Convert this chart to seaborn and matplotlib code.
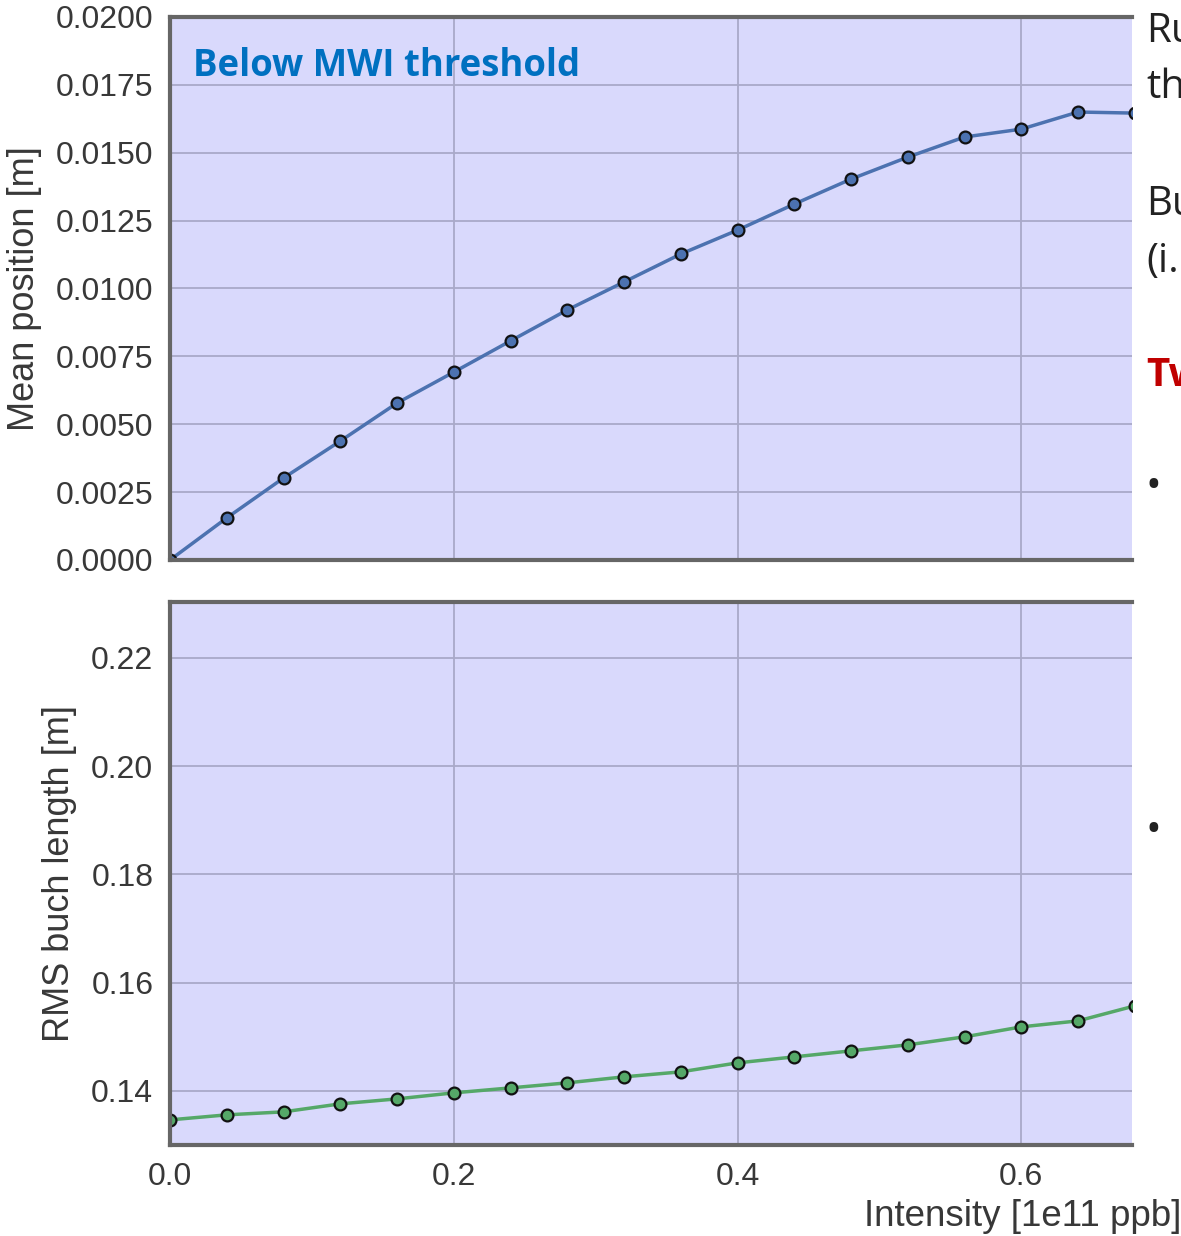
import numpy as np
import pandas as pd
import matplotlib
matplotlib.use("Agg")
import matplotlib.pyplot as plt
import seaborn as sns

# ---- data ----
intensity = [0.00, 0.04, 0.08, 0.12, 0.16, 0.20, 0.24, 0.28, 0.32, 0.36,
             0.40, 0.44, 0.48, 0.52, 0.56, 0.60, 0.64, 0.68]
mean_position = [0.0000, 0.00155, 0.00302, 0.00438, 0.00578, 0.00692, 0.00807,
                 0.00921, 0.01024, 0.01127, 0.01215, 0.01311, 0.01403, 0.01484,
                 0.01558, 0.01587, 0.01650, 0.01646]
rms_length = [0.13464, 0.13557, 0.13612, 0.13760, 0.13852, 0.13963, 0.14055,
              0.14148, 0.14259, 0.14351, 0.14517, 0.14628, 0.14739, 0.14850,
              0.14998, 0.15182, 0.15293, 0.15570]
top_yticks = [0.0, 0.0025, 0.005, 0.0075, 0.01, 0.0125, 0.015, 0.0175, 0.02]
top_yticklabels = ["0.0000", "0.0025", "0.0050", "0.0075", "0.0100",
                   "0.0125", "0.0150", "0.0175", "0.0200"]
bot_yticks = [0.14, 0.16, 0.18, 0.20, 0.22]
bot_yticklabels = ["0.14", "0.16", "0.18", "0.20", "0.22"]
xticks = [0.0, 0.2, 0.4, 0.6]
xticklabels = ["0.0", "0.2", "0.4", "0.6"]

df = pd.DataFrame({"intensity": intensity, "mean": mean_position, "rms": rms_length})

sns.set_theme(style="darkgrid")
plt.rcParams["font.family"] = ["Liberation Sans", "DejaVu Sans"]

W, H = 1181, 1236
fig = plt.figure(figsize=(W / 100, H / 100), dpi=100)

bg = "#d9d9fc"
gridc = "#a9a9c9"
spinec = "#666666"
textc = "#383838"

def px_axes(left, top, right, bottom):
    return fig.add_axes([left / W, 1 - bottom / H, (right - left) / W, (bottom - top) / H])

ax1 = px_axes(170, 17, 1132, 560)
ax2 = px_axes(170, 602, 1132, 1145)

for ax in (ax1, ax2):
    ax.set_facecolor(bg)
    ax.grid(True, color=gridc, linewidth=1.3)
    for side in ("left", "top", "bottom"):
        ax.spines[side].set_visible(True)
        ax.spines[side].set_color(spinec)
        ax.spines[side].set_linewidth(3)
    ax.spines["right"].set_visible(False)
    ax.tick_params(axis="both", length=0, labelsize=23, labelcolor=textc, pad=12)
    ax.set_xlim(0, 0.678)
    ax.set_xticks(xticks)

sns.lineplot(data=df, x="intensity", y="mean", ax=ax1, color="#4c72b0", linewidth=2.5,
             marker="o", markersize=8.5, markeredgecolor="#111111", markeredgewidth=1.6)
sns.lineplot(data=df, x="intensity", y="rms", ax=ax2, color="#55a868", linewidth=2.5,
             marker="o", markersize=8.5, markeredgecolor="#111111", markeredgewidth=1.6)

ax1.set_ylim(0, 0.02)
ax1.set_yticks(top_yticks)
ax1.set_yticklabels(top_yticklabels)
ax1.set_xticklabels([])
ax1.set_xlabel("")
ax1.set_ylabel("Mean position [m]", fontsize=26, color=textc, labelpad=10)

ax2.set_ylim(0.130, 0.2303)
ax2.set_yticks(bot_yticks)
ax2.set_yticklabels(bot_yticklabels)
ax2.set_xticklabels(xticklabels)
ax2.set_xlabel("")
ax2.set_ylabel("RMS buch length [m]", fontsize=26, color=textc, labelpad=10)

ax1.text(0.024, 0.91, "Below MWI threshold", transform=ax1.transAxes,
         fontsize=26.3, fontweight="bold", color="#0070c0", family=["Open Sans", "DejaVu Sans"],
         va="center", ha="left")

fig.text(1.0, 1 - 1216 / H, "Intensity [1e11 ppb]", ha="right", va="center",
         fontsize=26.5, color=textc)

# slide text fragments on the right
slide_font = ["Open Sans", "DejaVu Sans"]
fig.text(1146 / W, 1 - 32 / H, "Ru", fontsize=29, color="#222222", family=slide_font, va="center", ha="left")
fig.text(1146 / W, 1 - 88 / H, "th", fontsize=29, color="#222222", family=slide_font, va="center", ha="left")
fig.text(1146 / W, 1 - 205 / H, "Bu", fontsize=29, color="#222222", family=slide_font, va="center", ha="left")
fig.text(1146 / W, 1 - 262 / H, "(i.", fontsize=29, color="#222222", family=slide_font, va="center", ha="left")
fig.text(1146 / W, 1 - 376 / H, "Tw", fontsize=29, color="#c00000", fontweight="bold", family=slide_font, va="center", ha="left")
fig.text(1153 / W, 1 - 487 / H, "•", fontsize=30, color="#222222", family=slide_font, va="center", ha="center")
fig.text(1153 / W, 1 - 831 / H, "•", fontsize=30, color="#222222", family=slide_font, va="center", ha="center")

fig.savefig("out.png", dpi=100, facecolor="white")
